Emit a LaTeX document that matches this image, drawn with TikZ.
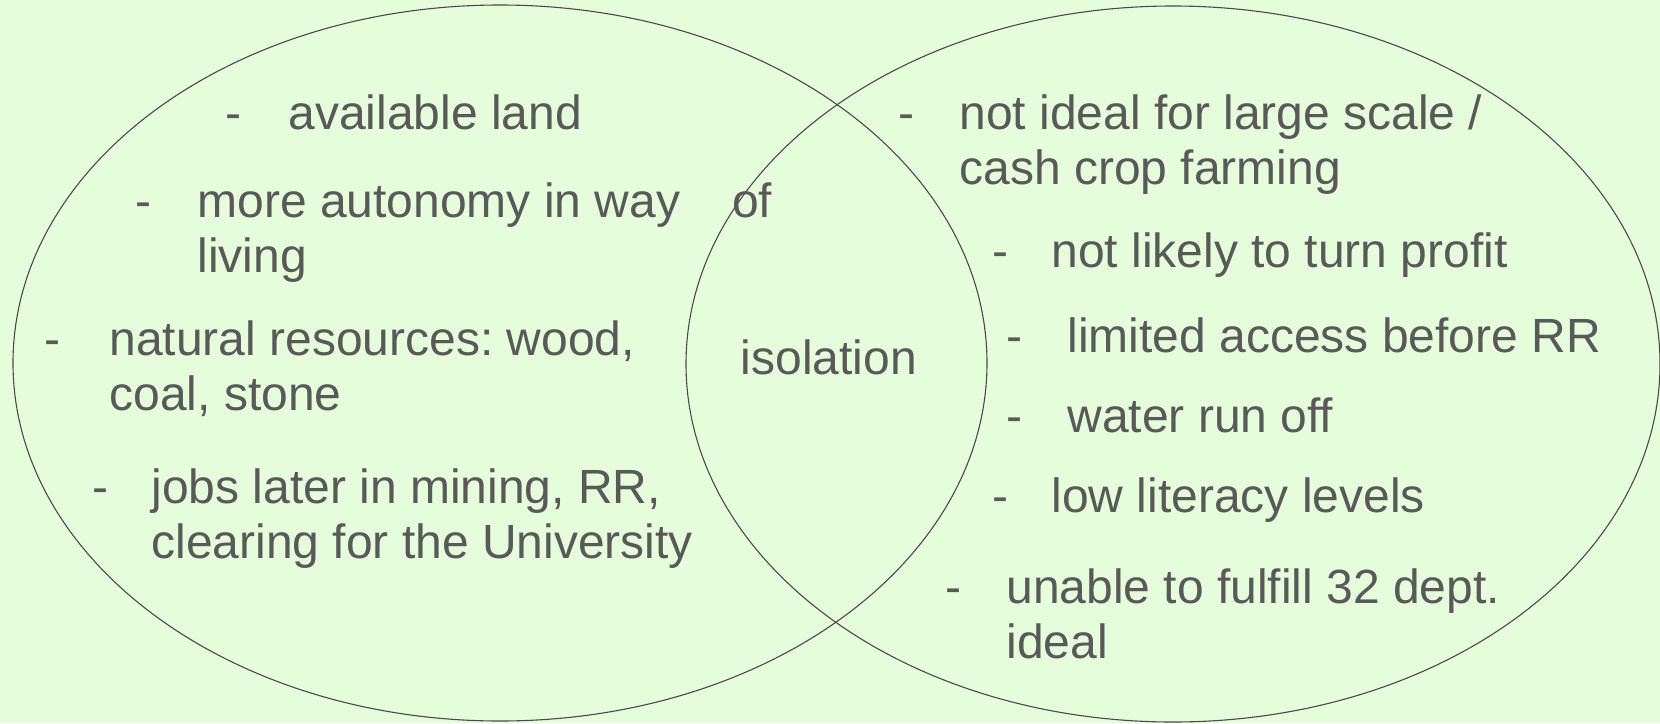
\documentclass[tikz,border=0pt]{standalone}
\usepackage{fontspec}
\setmainfont{Liberation Sans}
\usetikzlibrary{positioning}
\definecolor{bgcol}{HTML}{E6FDDC}
\definecolor{txtcol}{HTML}{595959}
\definecolor{linecol}{HTML}{4A4A4A}
\frenchspacing

\begin{document}
\begin{tikzpicture}[x=0.5pt, y=-0.5pt,
				item/.style={anchor=base west, inner sep=0pt, align=left, text=txtcol, font=\fontsize{24}{27.5}\selectfont},
				bullet/.style={item},
				venn/.style={draw=linecol, line width=0.55pt}]
				\fill[bgcol] (0,0) rectangle (1660,723);
				\useasboundingbox (0,0) rectangle (1660,723);
				
				% the two sets
				\draw[venn] (500,363) ellipse [x radius=487, y radius=358];
				\draw[venn] (1173,364) ellipse [x radius=487, y radius=358];
				
				% left set (two-line items sit on the baseline of their last line)
				\node[bullet] (ld1) at (225,129) {-};
				\node[item] (land) at (288,129) {available land};
				\node[bullet] (ld2) at (135,217) {-};
				\node[item] (auto) at (197,272) {more autonomy in way\hspace{26pt}of\\living};
				\node[bullet] (ld3) at (44,355) {-};
				\node[item] (res) at (109,410) {natural resources: wood,\\coal, stone};
				\node[bullet] (ld4) at (92,503) {-};
				\node[item] (jobs) at (151,558) {jobs later in mining, RR,\\clearing for the University};
				
				% overlap
				\node[item, anchor=base] (iso) at (829,374) {isolation};
				
				% right set
				\node[bullet] (rd1) at (898,129) {-};
				\node[item] (scale) at (959,184) {not ideal for large scale /\\cash crop farming};
				\node[bullet] (rd2) at (992,267) {-};
				\node[item] (profit) at (1051,267) {not likely to turn profit};
				\node[bullet] (rd3) at (1006,352) {-};
				\node[item] (access) at (1067,352) {limited access before RR};
				\node[bullet] (rd4) at (1006,432) {-};
				\node[item] (water) at (1067,432) {water run off};
				\node[bullet] (rd5) at (992,512) {-};
				\node[item] (lit) at (1051,512) {low literacy levels};
				\node[bullet] (rd6) at (945,603) {-};
				\node[item] (dept) at (1006,658) {unable to fulfill 32 dept.\\ideal};
			\end{tikzpicture}
\end{document}
